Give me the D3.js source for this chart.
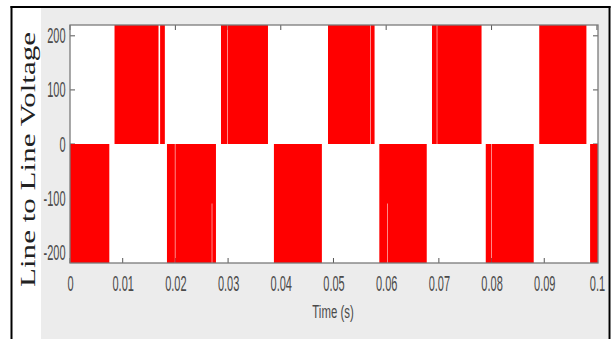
<!DOCTYPE html>
<html>
<head>
<meta charset="utf-8">
<script src="https://cdn.jsdelivr.net/npm/d3@7"></script>
<style>
  html, body { margin: 0; padding: 0; background: #ffffff; }
  svg { display: block; }
</style>
</head>
<body>
<svg id="chart" width="614" height="339"></svg>
<script>
// ---- data ----
// switching instants (s) and the voltage level held from each instant until the next one
const switchTimes = [
  0, 0.00746,
  0.00845, 0.0168, 0.0171, 0.0180,
  0.0184, 0.0199, 0.0200, 0.0269, 0.0270, 0.0277,
  0.02865, 0.0298, 0.0299, 0.03757,
  0.0387, 0.0478,
  0.04896, 0.0570, 0.0571, 0.0578,
  0.0587, 0.0602, 0.0603, 0.0677,
  0.0687, 0.0696, 0.0697, 0.0781,
  0.0789, 0.0799, 0.0800, 0.0880,
  0.08905, 0.0980,
  0.0987, 0.1003
];
const voltageLevels = [
  -220, 0,
  220, 0, 220, 0,
  -220, 0, -220, -110, -220, 0,
  220, 0, 220, 0,
  -220, 0,
  220, 0, 220, 0,
  -220, -110, -220, 0,
  220, 0, 220, 0,
  -220, 0, -220, 0,
  220, 0,
  -220, -220
];
const xTicks = [0, 0.01, 0.02, 0.03, 0.04, 0.05, 0.06, 0.07, 0.08, 0.09, 0.1];
const xTickLabels = ["0", "0.01", "0.02", "0.03", "0.04", "0.05", "0.06", "0.07", "0.08", "0.09", "0.1"];
const yTicks = [-200, -100, 0, 100, 200];
const yTickLabels = ["-200", "-100", "0", "100", "200"];
const xTitle = "Time (s)";
const yTitle = "Line to Line Voltage";

// ---- layout ----
const svg = d3.select("#chart");
const W = 614, H = 339;
const plot = { left: 70, right: 598, top: 25, bottom: 263 };

const x = d3.scaleLinear().domain([0, 0.1002]).range([plot.left, plot.right]);
const y = d3.scaleLinear().domain([-220, 220]).range([plot.bottom, plot.top]);

// backgrounds
svg.append("rect").attr("x", 0).attr("y", 0).attr("width", W).attr("height", H).attr("fill", "#ffffff");
svg.append("rect").attr("x", 41).attr("y", 8).attr("width", 567).attr("height", H - 8).attr("fill", "#ececec");
svg.append("rect").attr("x", plot.left).attr("y", plot.top)
  .attr("width", plot.right - plot.left).attr("height", plot.bottom - plot.top).attr("fill", "#ffffff");

// inward tick marks (drawn beneath the waveform)
const tickLen = 5;
const tk = svg.append("g").attr("stroke", "#555").attr("stroke-width", 1);
xTicks.forEach(d => {
  tk.append("line").attr("x1", x(d)).attr("x2", x(d)).attr("y1", plot.bottom).attr("y2", plot.bottom - tickLen);
  tk.append("line").attr("x1", x(d)).attr("x2", x(d)).attr("y1", plot.top).attr("y2", plot.top + tickLen);
});
yTicks.forEach(d => {
  tk.append("line").attr("x1", plot.left).attr("x2", plot.left + tickLen).attr("y1", y(d)).attr("y2", y(d));
  tk.append("line").attr("x1", plot.right).attr("x2", plot.right - tickLen).attr("y1", y(d)).attr("y2", y(d));
});

// waveform
const pts = switchTimes.map((t, i) => ({ t: t, v: voltageLevels[i] }));
const area = d3.area()
  .curve(d3.curveStepAfter)
  .x(d => x(d.t))
  .y0(y(0))
  .y1(d => y(d.v));
svg.append("clipPath").attr("id", "clip").append("rect")
  .attr("x", plot.left).attr("y", plot.top)
  .attr("width", plot.right - plot.left).attr("height", plot.bottom - plot.top);
svg.append("path").datum(pts)
  .attr("clip-path", "url(#clip)")
  .attr("d", area)
  .attr("fill", "#ff0000")
  .attr("stroke", "none");

// plot box
svg.append("rect").attr("x", plot.left).attr("y", plot.top)
  .attr("width", plot.right - plot.left).attr("height", plot.bottom - plot.top)
  .attr("fill", "none").attr("stroke", "#7a7a7a").attr("stroke-width", 1.3);

// axes (labels only)
const tickFont = "'Liberation Sans', Arial, sans-serif";
const xAxis = d3.axisBottom(x).tickValues(xTicks)
  .tickFormat((d, i) => xTickLabels[i]).tickSize(0).tickPadding(12);
const gx = svg.append("g").attr("transform", `translate(0,${plot.bottom})`).call(xAxis);
gx.select(".domain").remove();
gx.selectAll("text").attr("font-family", tickFont).attr("font-size", 22)
  .attr("fill", "#4a4a4a").attr("transform", "scale(0.5,1)");

const yAxis = d3.axisLeft(y).tickValues(yTicks)
  .tickFormat((d, i) => yTickLabels[i]).tickSize(0).tickPadding(9);
const gy = svg.append("g").attr("transform", `translate(${plot.left},0)`).call(yAxis);
gy.select(".domain").remove();
gy.selectAll("text").attr("font-family", tickFont).attr("font-size", 22)
  .attr("fill", "#4a4a4a").attr("transform", "scale(0.5,1)");

// titles
svg.append("text")
  .attr("transform", "translate(333,318) scale(0.6,1)")
  .attr("text-anchor", "middle")
  .attr("font-family", tickFont).attr("font-size", 19).attr("fill", "#4a4a4a")
  .text(xTitle);

svg.append("text")
  .attr("transform", "translate(35,159.5) rotate(-90) scale(1,0.72)")
  .attr("text-anchor", "middle")
  .attr("font-family", "'Liberation Serif', 'Times New Roman', serif")
  .attr("font-size", 30).attr("fill", "#222")
  .attr("textLength", 255).attr("lengthAdjust", "spacingAndGlyphs")
  .text(yTitle);

// outer frame
const fr = svg.append("g").attr("stroke", "#000").attr("stroke-width", 2).attr("fill", "none");
fr.append("line").attr("x1", 11.5).attr("x2", 11.5).attr("y1", 6).attr("y2", H);
fr.append("line").attr("x1", 10.5).attr("x2", 610.5).attr("y1", 7).attr("y2", 7);
fr.append("line").attr("x1", 609.5).attr("x2", 609.5).attr("y1", 6).attr("y2", H);
</script>
</body>
</html>
